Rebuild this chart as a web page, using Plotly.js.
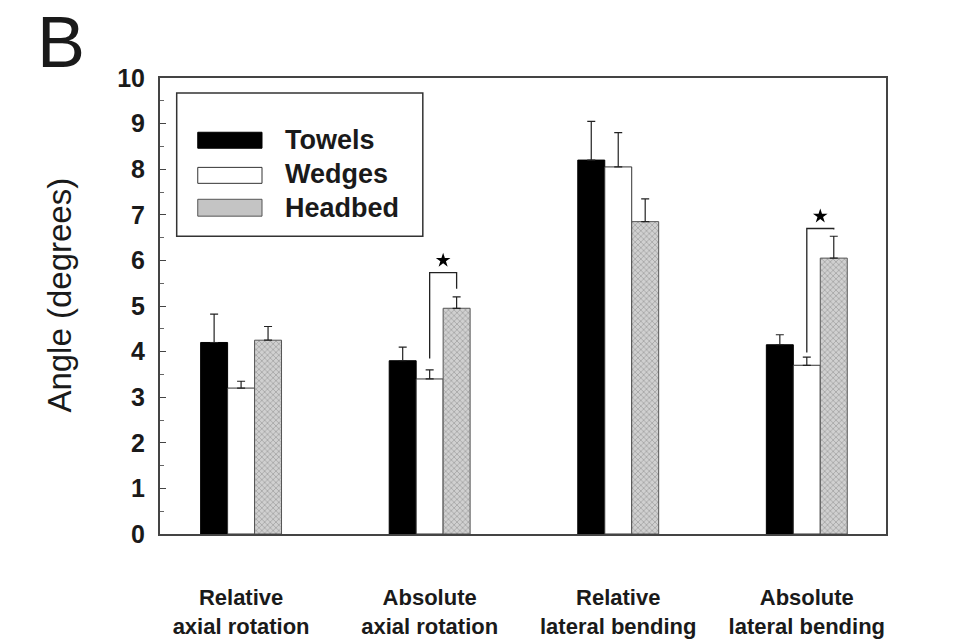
<!DOCTYPE html>
<html>
<head>
<meta charset="utf-8">
<script src="https://cdn.plot.ly/plotly-3.0.1.min.js"></script>
<style>html,body{margin:0;padding:0;background:#fff;}#chart{width:959px;height:642px;}</style>
</head>
<body>
<div id="chart"></div>
<script>
// ---- data ----
const categories = ["Relative<br>axial rotation", "Absolute<br>axial rotation", "Relative<br>lateral bending", "Absolute<br>lateral bending"];
const catPos = [0, 1, 2, 3];
const towels = [4.2, 3.8, 8.2, 4.15];
const towelsErr = [0.62, 0.3, 0.85, 0.22];
const wedges = [3.2, 3.4, 8.05, 3.7];
const wedgesErr = [0.15, 0.2, 0.75, 0.18];
const headbed = [4.25, 4.95, 6.85, 6.05];
const headbedErr = [0.3, 0.25, 0.5, 0.48];
const seriesNames = ["Towels", "Wedges", "Headbed"];
// significance brackets: category index, left drop end, bracket top, right drop end, star height
const sigCats = [1, 3];
const sigLeftLow = [3.85, 3.98];
const sigTop = [5.73, 6.7];
const sigRightLow = [5.38, 6.68];
const sigStar = [6.0, 6.97];

const barW = 0.143;
const font = "Liberation Sans, Arial, Helvetica, sans-serif";
const ink = '#1a1a1a';

function errY(arr){return {type:'data', symmetric:false, array:arr, arrayminus:arr.map(()=>0), color:'#222', thickness:1.2, width:4};}

const fills = ['#000000', '#ffffff', '#c4c4c4'];
const lines = ['#000000', '#333333', '#555555'];

const traces = [
  {type:'bar', name:seriesNames[0], x:catPos, y:towels, width:barW, offset:-1.5*barW,
   marker:{color:fills[0], line:{color:lines[0], width:1}}, error_y:errY(towelsErr)},
  {type:'bar', name:seriesNames[1], x:catPos, y:wedges, width:barW, offset:-0.5*barW,
   marker:{color:fills[1], line:{color:lines[1], width:1}}, error_y:errY(wedgesErr)},
  {type:'bar', name:seriesNames[2], x:catPos, y:headbed, width:barW, offset:0.5*barW,
   marker:{color:fills[2], line:{color:lines[2], width:1},
           pattern:{shape:'x', fgcolor:'#8c8c8c', bgcolor:'#d0d0d0', size:4, solidity:0.25}},
   error_y:errY(headbedErr)}
];

// brackets
sigCats.forEach((c,i)=>{
  const xl = c, xr = c + barW;
  traces.push({type:'scatter', mode:'lines', showlegend:false, hoverinfo:'skip',
    x:[xl, xl, xr, xr], y:[sigLeftLow[i], sigTop[i], sigTop[i], sigRightLow[i]],
    line:{color:'#222', width:1.3}});
  traces.push({type:'scatter', mode:'markers', showlegend:false, hoverinfo:'skip',
    x:[(xl+xr)/2], y:[sigStar[i]], marker:{symbol:'star', size:11, color:'#000'}});
});

// custom legend (wide swatches like the original)
const legendBox = {x0:0.023, x1:0.362, y0:0.653, y1:0.967};
const swX = [0.052, 0.1405];
const swY = [[0.846, 0.881], [0.769, 0.804], [0.697, 0.734]];
const legTextX = 0.169;
const legTextY = [0.864, 0.789, 0.716];

const shapes = [
  {type:'rect', xref:'paper', yref:'paper', x0:legendBox.x0, x1:legendBox.x1, y0:legendBox.y0, y1:legendBox.y1,
   line:{color:'#333', width:1.5}, fillcolor:'#fff', layer:'above'}
];
const annotations = [
  {text:'B', xref:'paper', yref:'paper', x:-0.172, y:1.172, xanchor:'left', yanchor:'top',
   showarrow:false, font:{size:72, family:font, color:ink}},
  {text:'Angle (degrees)', xref:'paper', yref:'paper', x:-0.139, y:0.523, xanchor:'center', yanchor:'middle',
   textangle:-90, showarrow:false, font:{size:33, family:font, color:ink}}
];
seriesNames.forEach((n,i)=>{
  shapes.push({type:'rect', xref:'paper', yref:'paper', x0:swX[0], x1:swX[1], y0:swY[i][0], y1:swY[i][1],
    line:{color:lines[i], width:1}, fillcolor:fills[i], layer:'above'});
  annotations.push({text:n, xref:'paper', yref:'paper', x:legTextX, y:legTextY[i], xanchor:'left', yanchor:'middle',
    showarrow:false, font:{size:27, family:font, color:ink, weight:'bold'}});
});

const layout = {
  width:959, height:642,
  margin:{l:160, r:73, t:78, b:108},
  paper_bgcolor:'#fff', plot_bgcolor:'#fff',
  font:{family:font, color:ink},
  showlegend:false,
  shapes:shapes,
  annotations:annotations,
  xaxis:{range:[-0.43, 3.42], tickvals:catPos, ticktext:categories, showgrid:false, zeroline:false,
         ticks:'', showline:true, linecolor:'#444', linewidth:2, mirror:true,
         tickfont:{size:22, family:font, color:ink, weight:'bold'}, ticklabelstandoff:43},
  yaxis:{range:[0, 10], dtick:1, tickmode:'linear', ticks:'inside', ticklen:6, tickcolor:'#444',
         minor:{dtick:0.5, ticks:'inside', ticklen:4, tickcolor:'#666'},
         showgrid:false, zeroline:false, showline:true, linecolor:'#444', linewidth:2, mirror:true,
         tickfont:{size:25, family:font, color:ink, weight:'bold'}, ticklabelstandoff:8}
};

Plotly.newPlot('chart', traces, layout, {displayModeBar:false, staticPlot:true});
</script>
</body>
</html>
